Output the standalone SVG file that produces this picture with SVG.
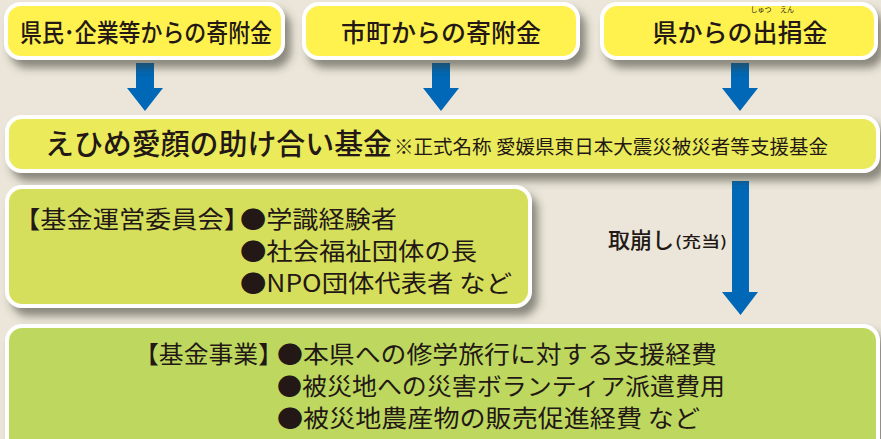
<svg xmlns="http://www.w3.org/2000/svg" width="881" height="439" viewBox="0 0 881 439">
<defs>
<filter id="sh" x="-5%" y="-20%" width="115%" height="160%">
<feGaussianBlur in="SourceAlpha" stdDeviation="4"/>
<feOffset dx="6" dy="8" result="b"/>
<feFlood flood-color="#3a3a30" flood-opacity="0.55"/>
<feComposite in2="b" operator="in"/>
<feMerge><feMergeNode/><feMergeNode in="SourceGraphic"/></feMerge>
</filter>
<style>
.box{stroke:#ffffff;stroke-width:4;filter:url(#sh)}
.y1{fill:#fff250}
.y2{fill:#eaea5a}
.g1{fill:#d5df5c}
.g2{fill:#bed85f}
text{font-family:"Noto Sans CJK JP","Noto Sans",sans-serif;fill:#231815}
.t25{font-size:25px;font-weight:500}
.t24{font-size:24px}
.arr{fill:#0068b6}
.ruby{font-size:7px}
</style>
</defs>
<rect width="881" height="439" fill="#ebe6d9"/>
<g id="connectors">
<path class="arr" d="M136,63H154V88H163L145,111L127,88H136Z"/>
<path class="arr" d="M432,63H450V88H459L441,111L423,88H432Z"/>
<path class="arr" d="M731,63H749V88H758L740,111L722,88H731Z"/>
<path class="arr" d="M732,181H749V292H758L740.5,315L722,292H732Z"/>
<text x="608" y="248" style="font-size:22px;font-weight:500">取崩し</text>
<text x="675" y="247" style="font-size:15px;font-weight:500" textLength="52" lengthAdjust="spacingAndGlyphs">(充当)</text>
</g>
<g id="node-kenmin">
<rect class="box y1" x="6" y="4" width="277" height="54" rx="15"/>
<text class="t25" x="146" y="42" text-anchor="middle" textLength="252" lengthAdjust="spacingAndGlyphs">県民･企業等からの寄附金</text>
</g>
<g id="node-shicho">
<rect class="box y1" x="304" y="4" width="274" height="54" rx="15"/>
<text class="t25" x="441" y="42" text-anchor="middle">市町からの寄附金</text>
</g>
<g id="node-ken">
<rect class="box y1" x="602" y="4" width="274" height="54" rx="15"/>
<text class="t25" x="740" y="42" text-anchor="middle">県からの出捐金</text>
<text class="ruby" x="761" y="12" text-anchor="middle">しゅつ</text>
<text class="ruby" x="787" y="12" text-anchor="middle">えん</text>
</g>
<g id="node-fund">
<rect class="box y2" x="7" y="117" width="871" height="54" rx="15"/>
<text x="45" y="155" style="font-size:29px;font-weight:500" textLength="347" lengthAdjust="spacingAndGlyphs">えひめ愛顔の助け合い基金</text>
<text x="394" y="154" style="font-size:19px" textLength="434" lengthAdjust="spacingAndGlyphs">※正式名称 愛媛県東日本大震災被災者等支援基金</text>
</g>
<g id="node-committee">
<rect class="box g1" x="7" y="187" width="523" height="119" rx="15"/>
<text class="t24" x="14" y="228" textLength="236" lengthAdjust="spacingAndGlyphs">【基金運営委員会】</text>
<text class="t24" x="240" y="228" textLength="157" lengthAdjust="spacingAndGlyphs">●学識経験者</text>
<text class="t24" x="240" y="260" textLength="237" lengthAdjust="spacingAndGlyphs">●社会福祉団体の長</text>
<text class="t24" x="240" y="292" textLength="272" lengthAdjust="spacingAndGlyphs">●NPO団体代表者 など</text>
</g>
<g id="node-jigyo">
<rect class="box g2" x="7" y="326" width="871" height="140" rx="15"/>
<text class="t24" x="134" y="363" textLength="149" lengthAdjust="spacingAndGlyphs">【基金事業】</text>
<text class="t24" x="277" y="363" textLength="440" lengthAdjust="spacingAndGlyphs">●本県への修学旅行に対する支援経費</text>
<text class="t24" x="277" y="395" textLength="448" lengthAdjust="spacingAndGlyphs">●被災地への災害ボランティア派遣費用</text>
<text class="t24" x="277" y="427" textLength="423" lengthAdjust="spacingAndGlyphs">●被災地農産物の販売促進経費 など</text>
</g>
</svg>
